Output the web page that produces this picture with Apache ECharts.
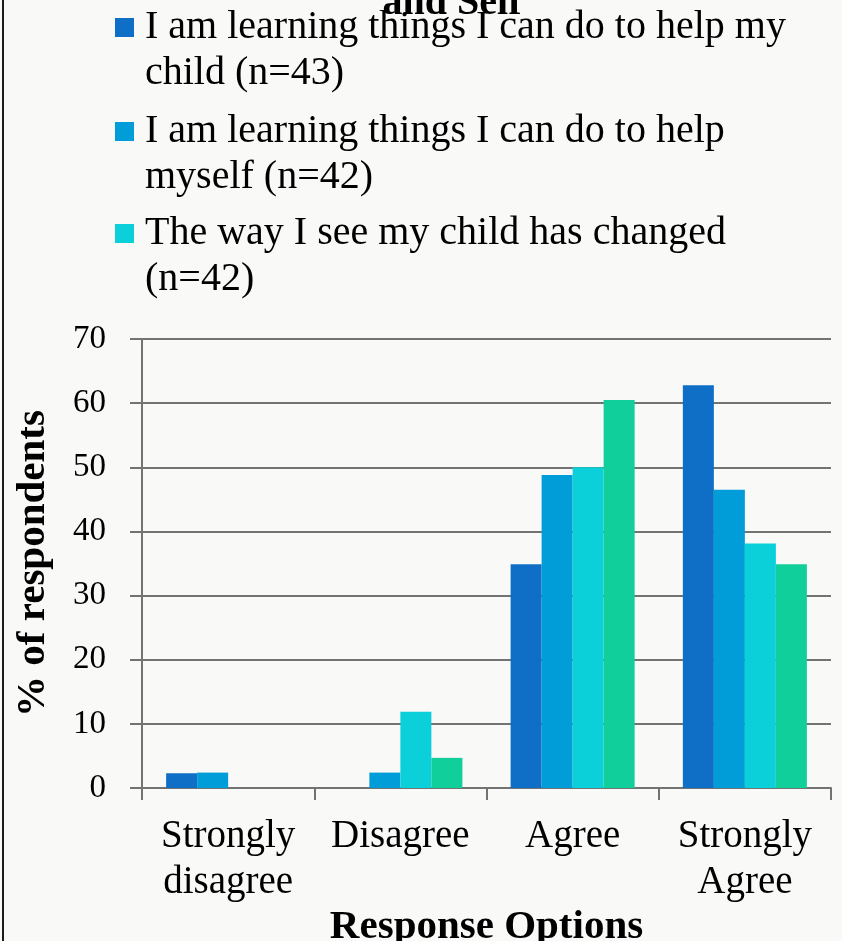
<!DOCTYPE html>
<html>
<head>
<meta charset="utf-8">
<script src="https://cdn.jsdelivr.net/npm/echarts@6/dist/echarts.min.js"></script>
<style>
  html, body { margin: 0; padding: 0; background: #f9f9f8; }
  #chart { width: 842px; height: 941px; }
</style>
</head>
<body>
<div id="chart"></div>
<script>
// Response options along the x axis
const categories = ['Strongly\ndisagree', 'Disagree', 'Agree', 'Strongly\nAgree'];

// Percent of respondents per statement
const helpChild = [2.3, 0, 34.9, 62.8];
const helpMyself = [2.4, 2.4, 48.8, 46.5];
const seeChild = [0, 11.9, 50.0, 38.1];
const fourthItem = [0, 4.7, 60.5, 34.9];

const seriesNames = [
  'I am learning things I can do to help my child (n=43)',
  'I am learning things I can do to help myself (n=42)',
  'The way I see my child has changed (n=42)',
  'Fourth statement'
];
// Legend text broken into the two lines each entry wraps onto
const legendLines = {};
legendLines[seriesNames[0]] = ['I am learning things I can do to help my', 'child (n=43)'];
legendLines[seriesNames[1]] = ['I am learning things I can do to help', 'myself (n=42)'];
legendLines[seriesNames[2]] = ['The way I see my child has changed', '(n=42)'];

const yTicks = { min: 0, max: 70, interval: 10 };

const colors = ['#0f6fc6', '#009dd9', '#0bd0d9', '#10cf9b'];
const FONT = '"Liberation Serif", "DejaVu Serif", serif';
const LINE_H = 46;

// One legend block per entry; a blank leading line keeps the marker beside the first text line
function legendFor(name, iconTop) {
  return {
    data: [name],
    left: 115,
    top: iconTop - LINE_H * 1.5 + 9.5,
    padding: 0,
    orient: 'vertical',
    itemWidth: 19,
    itemHeight: 19,
    icon: 'rect',
    selectedMode: false,
    formatter: (n) => ' \n' + legendLines[n].join('\n'),
    textStyle: {
      fontFamily: FONT,
      fontSize: 40,
      color: '#000',
      lineHeight: LINE_H,
      padding: [0, 0, 0, 6]
    }
  };
}

const chart = echarts.init(document.getElementById('chart'), null, { renderer: 'canvas' });

chart.setOption({
  backgroundColor: '#f9f9f8',
  color: colors,
  animation: false,
  graphic: [
    {
      type: 'line',
      shape: { x1: 3, y1: 0, x2: 3, y2: 941 },
      style: { stroke: '#1a1a1a', lineWidth: 2 }
    },
    {
      type: 'text',
      x: 452,
      y: 4,
      style: {
        text: 'and Self',
        font: 'bold 40px ' + FONT,
        fill: '#000',
        align: 'center',
        verticalAlign: 'middle'
      }
    }
  ],
  legend: [
    legendFor(seriesNames[0], 18),
    legendFor(seriesNames[1], 122),
    legendFor(seriesNames[2], 224)
  ],
  grid: { left: 142, right: 11, top: 339, bottom: 153, containLabel: false, outerBoundsMode: 'none' },
  xAxis: {
    type: 'category',
    data: categories,
    name: 'Response Options',
    nameLocation: 'middle',
    nameGap: 105,
    nameTextStyle: { fontFamily: FONT, fontSize: 41, fontWeight: 'bold', color: '#000' },
    axisLine: { lineStyle: { color: '#737373', width: 2 } },
    axisTick: { show: true, length: 12, lineStyle: { color: '#737373', width: 2 } },
    axisLabel: {
      fontFamily: FONT,
      fontSize: 39,
      lineHeight: LINE_H,
      color: '#000',
      margin: 26,
      interval: 0
    }
  },
  yAxis: {
    type: 'value',
    min: yTicks.min,
    max: yTicks.max,
    interval: yTicks.interval,
    name: '% of respondents',
    nameLocation: 'middle',
    nameGap: 88,
    nameTextStyle: { fontFamily: FONT, fontSize: 41, fontWeight: 'bold', color: '#000' },
    axisLine: { show: true, lineStyle: { color: '#737373', width: 2 } },
    axisTick: { show: true, length: 12, lineStyle: { color: '#737373', width: 2 } },
    splitLine: { show: true, lineStyle: { color: '#737373', width: 2 } },
    axisLabel: { fontFamily: FONT, fontSize: 33, color: '#000', margin: 36 }
  },
  series: [helpChild, helpMyself, seeChild, fourthItem].map((vals, i) => ({
    name: seriesNames[i],
    type: 'bar',
    data: vals,
    barGap: '0%',
    barCategoryGap: '28%',
    itemStyle: { color: colors[i] }
  }))
});
</script>
</body>
</html>
